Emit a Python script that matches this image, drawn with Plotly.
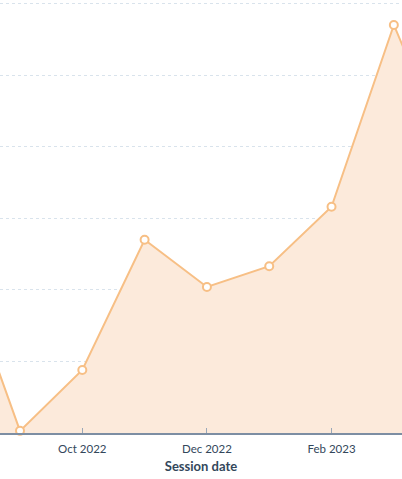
import plotly.graph_objects as go

months = ["Aug 2022", "Sep 2022", "Oct 2022", "Nov 2022", "Dec 2022",
          "Jan 2023", "Feb 2023", "Mar 2023", "Apr 2023"]
sessions = [24.6, 0.3, 8.8, 27.0, 20.4, 23.3, 31.6, 57.0, 36.5]
tick_labels = ["Oct 2022", "Dec 2022", "Feb 2023"]

x_idx = list(range(len(months)))
tick_pos = [months.index(t) for t in tick_labels]

fig = go.Figure()
fig.add_trace(go.Scatter(
    x=x_idx, y=sessions, mode="lines+markers",
    line=dict(color="#f7bf85", width=2),
    fill="tozeroy", fillcolor="#fceadb",
    marker=dict(size=8, color="white", line=dict(color="#f7bf85", width=2)),
    cliponaxis=False, hoverinfo="skip", showlegend=False,
))

fig.update_layout(
    width=402, height=479,
    margin=dict(l=0, r=0, t=0, b=46, autoexpand=False),
    paper_bgcolor="white", plot_bgcolor="white",
    font=dict(family="Lato, sans-serif", color="#33475b"),
    xaxis=dict(
        range=[0.679, 7.131],
        tickvals=tick_pos, ticktext=tick_labels,
        tickfont=dict(size=11.5, color="#33475b"),
        ticklabelstandoff=4,
        showgrid=False, zeroline=False,
        showline=True, linecolor="#7d8ea3", linewidth=1.5,
        ticks="inside", ticklen=5, tickcolor="#9aa8b8", tickwidth=1,
        title=dict(text="<b>Session date</b>", font=dict(size=13, color="#33475b"), standoff=8),
    ),
    yaxis=dict(
        range=[0, 60.49], dtick=10,
        showgrid=True, gridcolor="#d9e3ec", griddash="3px,3px", gridwidth=1,
        zeroline=False, showticklabels=False, showline=False,
    ),
)

fig.write_html("out.html", config={"displayModeBar": False},
               post_script="document.body.style.margin='0';document.body.style.padding='0';")
